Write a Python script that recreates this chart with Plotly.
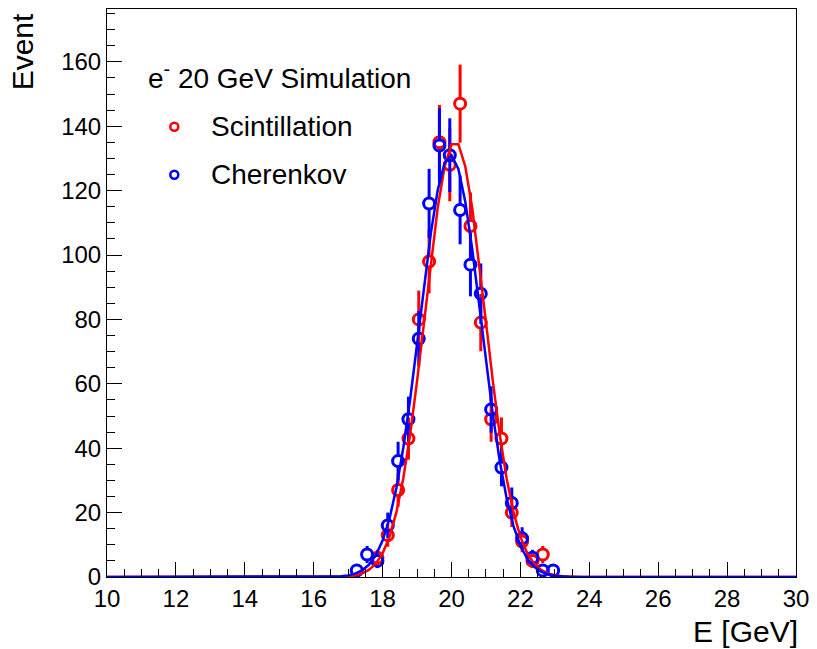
import numpy as np
import plotly.graph_objects as go

# ---- data ----
bin_centers_scint = [17.85, 18.15, 18.45, 18.75, 19.05, 19.35, 19.65, 19.95, 20.25,
                     20.55, 20.85, 21.15, 21.45, 21.75, 22.05, 22.35, 22.65]
counts_scint = [6, 13, 27, 43, 80, 98, 135, 128, 147, 109, 79, 49, 43, 20, 11, 5, 7]

bin_centers_cher = [17.25, 17.55, 17.85, 18.15, 18.45, 18.75, 19.05, 19.35, 19.65, 19.95,
                    20.25, 20.55, 20.85, 21.15, 21.45, 21.75, 22.05, 22.35, 22.65, 22.95]
counts_cher = [2, 7, 5, 16, 36, 49, 74, 116, 134, 131, 114, 97, 88, 52, 34, 23, 12, 6, 2, 2]

# Gaussian fit parameters (constant, mean, sigma)
fit_scint = (135.3, 20.10, 0.87)
fit_cher = (131.0, 19.97, 0.89)

x_ticks = [10, 12, 14, 16, 18, 20, 22, 24, 26, 28, 30]
y_ticks = [0, 20, 40, 60, 80, 100, 120, 140, 160]

RED = "#ff0000"
BLUE = "#0000ff"
FONT = "Liberation Sans, Arial, Helvetica, sans-serif"

# plot-area geometry (pixels)
PLOT_H = 569
Y_MAX = 176.4
GAP = 5.5 * Y_MAX / PLOT_H  # marker radius in data units (error bar gap like ROOT)

fig = go.Figure()


def add_points(xs, ys, color):
    ys = np.array(ys, dtype=float)
    err = np.sqrt(ys)
    part = np.clip(err - GAP, 0, None)
    # upper error segment
    fig.add_trace(go.Scatter(
        x=xs, y=ys + GAP, mode="markers", marker=dict(size=1, opacity=0),
        error_y=dict(type="data", symmetric=False, array=part, arrayminus=[0] * len(ys),
                     color=color, thickness=3, width=0),
        showlegend=False, hoverinfo="skip"))
    # lower error segment
    fig.add_trace(go.Scatter(
        x=xs, y=ys - GAP, mode="markers", marker=dict(size=1, opacity=0),
        error_y=dict(type="data", symmetric=False, array=[0] * len(ys), arrayminus=part,
                     color=color, thickness=3, width=0),
        showlegend=False, hoverinfo="skip"))
    fig.add_trace(go.Scatter(
        x=xs, y=ys, mode="markers",
        marker=dict(symbol="circle-open", size=11, color=color, line=dict(width=3, color=color)),
        showlegend=False, cliponaxis=False))


add_points(bin_centers_scint, counts_scint, RED)
add_points(bin_centers_cher, counts_cher, BLUE)

xf = np.linspace(10, 30, 101)
for (A, mu, sig), color in [(fit_scint, RED), (fit_cher, BLUE)]:
    fig.add_trace(go.Scatter(
        x=xf, y=A * np.exp(-0.5 * ((xf - mu) / sig) ** 2), mode="lines",
        line=dict(color=color, width=2.5), showlegend=False))

L, R, T, B = 107, 14, 8, 72
W, H = 817, 649
pw = W - L - R
ph = H - T - B


def px(x):
    return (x - L) / pw


def py(y):
    return (H - B - y) / ph


annotations = [
    dict(text="e<sup>-</sup> 20 GeV Simulation", x=px(146), y=py(75), xanchor="left",
         yanchor="middle", showarrow=False, font=dict(size=28, color="black", family=FONT)),
    dict(text="Scintillation", x=px(210), y=py(126), xanchor="left", yanchor="middle",
         showarrow=False, font=dict(size=28, color="black", family=FONT)),
    dict(text="Cherenkov", x=px(210), y=py(174), xanchor="left", yanchor="middle",
         showarrow=False, font=dict(size=28, color="black", family=FONT)),
    dict(text="Event", x=px(22), y=py(10), xanchor="center", yanchor="top", textangle=-90,
         showarrow=False, font=dict(size=30, color="black", family=FONT)),
    dict(text="E [GeV]", x=px(807), y=py(632), xanchor="right", yanchor="middle",
         showarrow=False, font=dict(size=30, color="black", family=FONT)),
]
for a in annotations:
    a["xref"] = "paper"
    a["yref"] = "paper"

shapes = []
for yy, color in [(126, RED), (174, BLUE)]:
    shapes.append(dict(type="circle", xref="paper", yref="paper",
                       xsizemode="pixel", ysizemode="pixel",
                       xanchor=px(175), yanchor=py(yy), x0=-4, x1=4, y0=-4, y1=4,
                       line=dict(color=color, width=2.5), fillcolor="white"))

fig.update_layout(
    width=W, height=H,
    margin=dict(l=L, r=R, t=T, b=B),
    paper_bgcolor="white", plot_bgcolor="white",
    font=dict(family=FONT, size=24, color="black"),
    annotations=annotations, shapes=shapes,
    xaxis=dict(range=[10, 30], tickvals=x_ticks, ticktext=[str(v) for v in x_ticks],
               ticks="inside", ticklen=15, tickwidth=1, tickcolor="black",
               minor=dict(dtick=0.5, ticks="inside", ticklen=8, tickcolor="black", showgrid=False),
               showline=True, linecolor="black", linewidth=1, mirror=True,
               showgrid=False, zeroline=False, tickfont=dict(size=24)),
    yaxis=dict(range=[0, Y_MAX], tickvals=y_ticks, ticktext=[str(v) for v in y_ticks],
               ticks="inside", ticklen=15, tickwidth=1, tickcolor="black",
               minor=dict(dtick=5, ticks="inside", ticklen=8, tickcolor="black", showgrid=False),
               showline=True, linecolor="black", linewidth=1, mirror=True,
               showgrid=False, zeroline=False, tickfont=dict(size=24)),
)

fig.write_html("out.html")
